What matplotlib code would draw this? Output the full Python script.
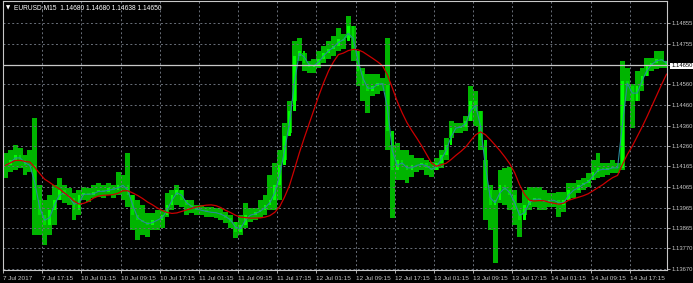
import matplotlib.pyplot as plt
import numpy as np
import pandas as pd

plt.rcParams['font.family'] = ['Liberation Sans Narrow', 'Liberation Sans', 'DejaVu Sans']

# hourly high / low / close
high = [1.14226, 1.14240, 1.14264, 1.14250, 1.14216, 1.14240, 1.14394, 1.14072, 1.14000, 1.14024,
        1.14072, 1.14106, 1.14072, 1.14058, 1.14034, 1.14048, 1.14062, 1.14058, 1.14072, 1.14082,
        1.14072, 1.14082, 1.14072, 1.14134, 1.14120, 1.14226, 1.14024, 1.14000, 1.13976, 1.13938,
        1.13938, 1.13952, 1.13952, 1.14034, 1.14048, 1.14072, 1.14048, 1.14000, 1.14000, 1.13976,
        1.13976, 1.13966, 1.13966, 1.13962, 1.13962, 1.13942, 1.13928, 1.13894, 1.13928, 1.13986,
        1.13962, 1.13962, 1.14000, 1.14024, 1.14120, 1.14178, 1.14240, 1.14370, 1.14480, 1.14768,
        1.14782, 1.14710, 1.14672, 1.14682, 1.14720, 1.14744, 1.14768, 1.14792, 1.14830, 1.14802,
        1.14888, 1.14840, 1.14720, 1.14638, 1.14610, 1.14610, 1.14610, 1.14590, 1.14782, 1.14264,
        1.14274, 1.14240, 1.14240, 1.14216, 1.14206, 1.14206, 1.14192, 1.14182, 1.14206, 1.14240,
        1.14302, 1.14384, 1.14374, 1.14374, 1.14408, 1.14552, 1.14528, 1.14432, 1.14192, 1.14072,
        1.14048, 1.14144, 1.14154, 1.14158, 1.14048, 1.13986, 1.14048, 1.14062, 1.14062, 1.14062,
        1.14048, 1.14034, 1.14034, 1.14038, 1.14038, 1.14082, 1.14082, 1.14096, 1.14106, 1.14130,
        1.14192, 1.14226, 1.14178, 1.14178, 1.14192, 1.14178, 1.14672, 1.14638, 1.14562, 1.14624,
        1.14638, 1.14686, 1.14686, 1.14720, 1.14720, 1.14672]
low = [1.14106, 1.14134, 1.14144, 1.14154, 1.14120, 1.14134, 1.13832, 1.13832, 1.13784, 1.13832,
       1.13880, 1.14000, 1.13986, 1.13976, 1.13904, 1.13928, 1.14000, 1.13990, 1.14010, 1.14014,
       1.14010, 1.14024, 1.14010, 1.14024, 1.14000, 1.13966, 1.13856, 1.13808, 1.13832, 1.13822,
       1.13856, 1.13856, 1.13866, 1.13918, 1.13952, 1.13976, 1.13966, 1.13928, 1.13938, 1.13928,
       1.13928, 1.13918, 1.13918, 1.13914, 1.13904, 1.13890, 1.13866, 1.13818, 1.13832, 1.13866,
       1.13894, 1.13904, 1.13914, 1.13928, 1.13952, 1.13952, 1.14000, 1.14192, 1.14322, 1.14480,
       1.14672, 1.14624, 1.14614, 1.14614, 1.14638, 1.14662, 1.14682, 1.14696, 1.14720, 1.14730,
       1.14782, 1.14672, 1.14552, 1.14480, 1.14418, 1.14504, 1.14514, 1.14528, 1.14240, 1.13914,
       1.14096, 1.14096, 1.14082, 1.14110, 1.14134, 1.14144, 1.14120, 1.14110, 1.14144, 1.14154,
       1.14192, 1.14302, 1.14322, 1.14326, 1.14336, 1.14384, 1.14360, 1.14240, 1.13904, 1.13856,
       1.13698, 1.13986, 1.13976, 1.13952, 1.13880, 1.13822, 1.13928, 1.13952, 1.13966, 1.13952,
       1.13952, 1.13966, 1.13966, 1.13918, 1.13942, 1.14000, 1.14010, 1.14034, 1.14048, 1.14062,
       1.14096, 1.14106, 1.14110, 1.14120, 1.14130, 1.14130, 1.14144, 1.14480, 1.14350, 1.14480,
       1.14528, 1.14600, 1.14624, 1.14634, 1.14638, 1.14638]
close = [1.14168, 1.14192, 1.14216, 1.14192, 1.14168, 1.14168, 1.14000, 1.13928, 1.13880, 1.13952,
         1.14000, 1.14048, 1.14024, 1.14010, 1.13952, 1.14024, 1.14034, 1.14024, 1.14038, 1.14048,
         1.14038, 1.14058, 1.14048, 1.14072, 1.14072, 1.14024, 1.13928, 1.13904, 1.13894, 1.13880,
         1.13904, 1.13904, 1.13928, 1.13976, 1.14024, 1.14048, 1.14000, 1.13976, 1.13966, 1.13952,
         1.13952, 1.13942, 1.13942, 1.13938, 1.13928, 1.13914, 1.13894, 1.13846, 1.13880, 1.13928,
         1.13928, 1.13942, 1.13952, 1.13976, 1.14000, 1.14072, 1.14168, 1.14312, 1.14432, 1.14696,
         1.14720, 1.14662, 1.14643, 1.14653, 1.14682, 1.14710, 1.14730, 1.14744, 1.14778, 1.14768,
         1.14840, 1.14720, 1.14624, 1.14552, 1.14528, 1.14552, 1.14566, 1.14557, 1.14336, 1.14144,
         1.14192, 1.14168, 1.14144, 1.14168, 1.14168, 1.14178, 1.14154, 1.14144, 1.14178, 1.14216,
         1.14264, 1.14346, 1.14350, 1.14355, 1.14384, 1.14480, 1.14432, 1.14288, 1.14048, 1.13976,
         1.14000, 1.14072, 1.14048, 1.14024, 1.13952, 1.13904, 1.13976, 1.14000, 1.14010, 1.14000,
         1.13990, 1.14000, 1.14000, 1.13976, 1.14000, 1.14048, 1.14048, 1.14072, 1.14082, 1.14096,
         1.14134, 1.14154, 1.14144, 1.14154, 1.14158, 1.14154, 1.14576, 1.14552, 1.14480, 1.14552,
         1.14600, 1.14648, 1.14662, 1.14682, 1.14672, 1.14650]

time_labels = ['7 Jul 2017', '7 Jul 17:15', '10 Jul 01:15', '10 Jul 09:15', '10 Jul 17:15',
               '11 Jul 01:15', '11 Jul 09:15', '11 Jul 17:15', '12 Jul 01:15', '12 Jul 09:15',
               '12 Jul 17:15', '13 Jul 01:15', '13 Jul 09:15', '13 Jul 17:15', '14 Jul 01:15',
               '14 Jul 09:15', '14 Jul 17:15']
price_ticks = [1.14855, 1.14755, 1.14650, 1.14560, 1.14460, 1.14360, 1.14260, 1.14165,
               1.14065, 1.13965, 1.13865, 1.13770, 1.13670]
header = 'EURUSD,M15  1.14680 1.14680 1.14638 1.14650'
last_price = 1.14650

df = pd.DataFrame({'high': high, 'low': low, 'close': close})
df['open'] = df['close'].shift(1).fillna(df['close'])
df['fast'] = df['close'].rolling(2, min_periods=1).mean()
df['slow'] = df['close'].rolling(10, min_periods=1).mean()
x = np.arange(len(df)) + 0.5

fig = plt.figure(figsize=(6.93, 2.83), dpi=100, facecolor='black')
ax = fig.add_axes([3/693, 13/283, 664/693, 269/283])
ax.set_facecolor('black')

# range in green, open-close body in lime
ax.bar(x, df['high'] - df['low'], bottom=df['low'], width=1.0, color='#00b400', linewidth=0)
body_lo = np.minimum(df['open'], df['close'])
body_h = np.abs(df['close'] - df['open'])
up = df['close'] >= df['open']
ax.bar(x, body_h, bottom=body_lo, width=0.55, color=np.where(up, '#00ff00', '#00dc00'), linewidth=0)

ax.plot(x, df['fast'], color='#2a8a9a', lw=0.8)
ax.plot(x, df['slow'], color='#cc0000', lw=0.9)
ax.axhline(last_price, color='#c8c8c8', lw=0.9)

ax.set_xlim(0, 135.6)
ax.set_ylim(1.13664, 1.14960)

ax.set_xticks(np.arange(len(time_labels)) * 8, labels=time_labels)
ax.yaxis.tick_right()
ax.set_yticks(price_ticks, labels=['%.5f' % p for p in price_ticks])

for lbl in ax.get_xticklabels():
    lbl.set_horizontalalignment('left')
ax.tick_params(axis='x', colors='#c8c8c8', labelsize=4.6, length=2, width=0.6, pad=2)
ax.tick_params(axis='y', colors='#c8c8c8', labelsize=4.2, length=2, width=0.6, pad=1)
for lbl in ax.get_yticklabels():
    if lbl.get_text() == '%.5f' % last_price:
        lbl.set_color('black')
        lbl.set_bbox(dict(facecolor='white', edgecolor='none', pad=0.5))

ax.grid(True, color='#6a707a', linestyle=(0, (2, 2.5)), linewidth=0.7)
for s in ax.spines.values():
    s.set_color('#c8c8c8')
    s.set_linewidth(0.8)

fig.text(6/693, 1 - 8/283, '\u25bc', color='white', fontsize=4, va='center', family='DejaVu Sans')
fig.text(14/693, 1 - 8/283, header, color='white', fontsize=4.8, va='center')

fig.savefig('out.png', dpi=100, facecolor='black')
